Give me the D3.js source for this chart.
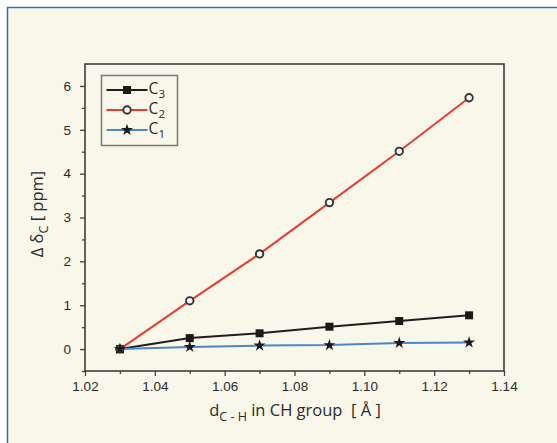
<!DOCTYPE html>
<html>
<head>
<meta charset="utf-8">
<script src="https://cdn.jsdelivr.net/npm/d3@7"></script>
<style>
  body { margin: 0; background: #fff; }
  svg { display: block; font-family: "Open Sans", Lato, sans-serif; }
</style>
</head>
<body>
<div id="chart"></div>
<script>
// bond length (x) and shift difference for each carbon
var dCH = [1.03, 1.05, 1.07, 1.09, 1.11, 1.13];
var c3 = [0, 0.25, 0.36, 0.51, 0.64, 0.77];
var c2 = [0, 1.10, 2.17, 3.34, 4.51, 5.73];
var c1 = [0, 0.05, 0.08, 0.09, 0.14, 0.15];
var xTicks = [1.02, 1.04, 1.06, 1.08, 1.10, 1.12, 1.14];
var yTicks = [0, 1, 2, 3, 4, 5, 6];

var seriesList = [
  { name: "3", values: c3, color: "#1e1e1e", marker: "square" },
  { name: "2", values: c2, color: "#ec3b2f", marker: "circle" },
  { name: "1", values: c1, color: "#4a87c9", marker: "star" }
];

var W = 557, H = 443;
var margin = { top: 64, right: 53, bottom: 72, left: 85 },
  width = W - margin.left - margin.right,
  height = H - margin.top - margin.bottom;

var root = d3.select("#chart")
  .append("svg")
  .attr("width", W)
  .attr("height", H);

// cream panel with blue border
root.append("rect")
  .attr("x", 7.5).attr("y", 7.5)
  .attr("width", 600).attr("height", 500)
  .attr("fill", "#f9f7ea")
  .attr("stroke", "#2f72b5")
  .attr("stroke-width", 1.5);

var svg = root.append("g")
  .attr("transform", "translate(" + margin.left + "," + margin.top + ")");

var x = d3.scaleLinear().domain([1.02, 1.14]).range([0, width]);
var y = d3.scaleLinear().domain([-0.5, 6.5]).range([height, 0]);

// minor ticks
svg.append("g")
  .attr("transform", "translate(0," + height + ")")
  .attr("class", "axis")
  .call(d3.axisBottom(x).tickValues(d3.range(6).map(function(i) { return 1.03 + i * 0.02; }))
    .tickSize(3).tickFormat(""));
svg.append("g")
  .attr("class", "axis")
  .call(d3.axisLeft(y).tickValues([-0.5, 0.5, 1.5, 2.5, 3.5, 4.5, 5.5]).tickSize(3).tickFormat(""));

// major ticks
svg.append("g")
  .attr("transform", "translate(0," + height + ")")
  .attr("class", "axis")
  .call(d3.axisBottom(x).tickValues(xTicks).tickSize(5).tickPadding(5).tickFormat(d3.format(".2f")));
svg.append("g")
  .attr("class", "axis")
  .call(d3.axisLeft(y).tickValues(yTicks).tickSize(5).tickPadding(9).tickFormat(d3.format("d")));

svg.selectAll(".axis .domain").remove();
svg.selectAll(".axis line").attr("stroke", "#444").attr("stroke-width", 1.3);
svg.selectAll(".axis text").attr("fill", "#2b2b2b").style("font-size", "13.5px");

// frame
svg.append("rect")
  .attr("width", width).attr("height", height)
  .attr("fill", "none")
  .attr("stroke", "#333")
  .attr("stroke-width", 1.5);

var line = d3.line()
  .x(function(d, i) { return x(dCH[i]); })
  .y(function(d) { return y(d); });

function drawMarker(g, type, cx, cy) {
  if (type == "square") {
    g.append("rect").attr("x", cx - 4).attr("y", cy - 4).attr("width", 8).attr("height", 8)
      .attr("fill", "#1a1a1a");
  } else if (type == "circle") {
    g.append("circle").attr("cx", cx).attr("cy", cy).attr("r", 3.7)
      .attr("fill", "#fff").attr("stroke", "#333").attr("stroke-width", 1.9);
  } else {
    g.append("path").attr("d", d3.symbol(d3.symbolStar, 45)())
      .attr("transform", "translate(" + cx + "," + cy + ")")
      .attr("fill", "#1a1a1a");
  }
}

seriesList.forEach(function(s) {
  svg.append("path")
    .datum(s.values)
    .attr("d", line)
    .attr("fill", "none")
    .attr("stroke", s.color)
    .attr("stroke-width", 2);
});
seriesList.forEach(function(s) {
  var g = svg.append("g");
  s.values.forEach(function(v, i) {
    drawMarker(g, s.marker, x(dCH[i]), y(v));
  });
});

// legend
var legend = root.append("g").attr("transform", "translate(101.5,75.5)");
legend.append("rect")
  .attr("width", 76).attr("height", 70)
  .attr("fill", "none")
  .attr("stroke", "#777")
  .attr("stroke-width", 1.5);
seriesList.forEach(function(s, i) {
  var ly = 14.5 + i * 20;
  legend.append("line")
    .attr("x1", 5).attr("x2", 46).attr("y1", ly).attr("y2", ly)
    .attr("stroke", s.color).attr("stroke-width", 2);
  drawMarker(legend, s.marker, 25.5, ly);
  legend.append("text")
    .attr("x", 47).attr("y", ly + 3.5)
    .attr("fill", "#2b2b2b")
    .style("font-size", "15.5px")
    .text("C");
  legend.append("text")
    .attr("x", 57).attr("y", ly + 7.5)
    .attr("fill", "#2b2b2b")
    .style("font-size", "11.5px")
    .text(s.name);
});

// axis titles
var xt = root.append("text")
  .attr("x", 295).attr("y", 416)
  .attr("text-anchor", "middle")
  .attr("fill", "#2b2b2b")
  .style("font-size", "16.5px");
xt.append("tspan").text("d");
xt.append("tspan").attr("dy", 5).style("font-size", "12.5px").text("C - H");
xt.append("tspan").attr("dy", -5).text(" in CH group \u00a0[ \u00c5 ]");

var yt = root.append("text")
  .attr("transform", "translate(43,214) rotate(-90)")
  .attr("text-anchor", "middle")
  .attr("fill", "#2b2b2b")
  .style("font-size", "16.5px");
yt.append("tspan").text("\u0394 \u03b4");
yt.append("tspan").attr("dy", 5).style("font-size", "12.5px").text("C");
yt.append("tspan").attr("dy", -5).text(" [ ppm]");
</script>
</body>
</html>
